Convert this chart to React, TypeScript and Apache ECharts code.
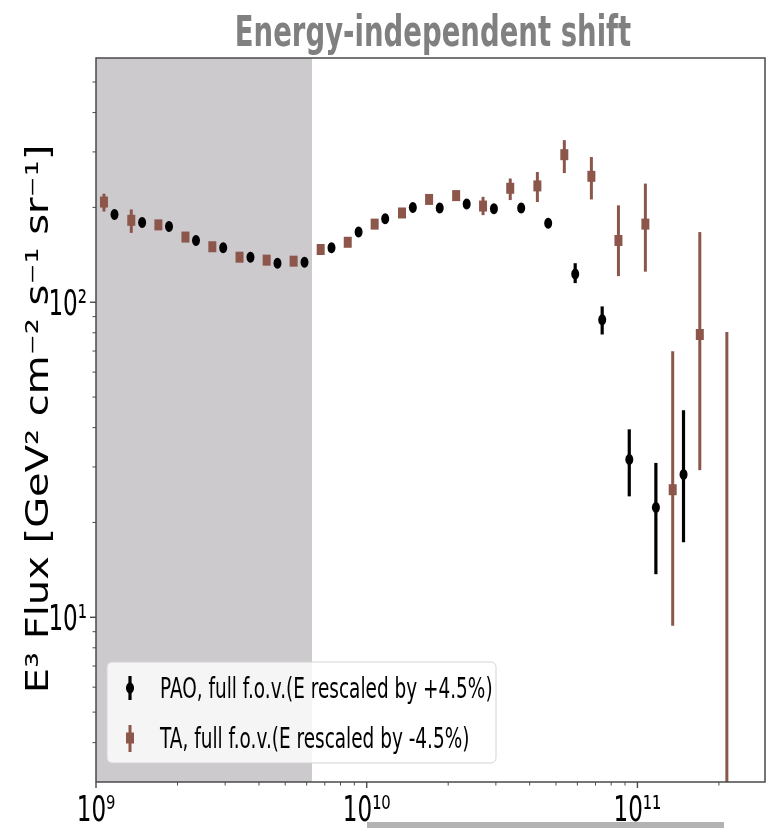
import React, { useEffect, useRef } from "react";
import * as echarts from "echarts";

// ---------- data ----------
const paoEnergy = [1.17e9, 1.48e9, 1.86e9, 2.34e9, 2.95e9, 3.72e9, 4.68e9, 5.89e9, 7.41e9, 9.33e9, 1.17e10, 1.48e10, 1.86e10, 2.34e10, 2.95e10, 3.72e10, 4.68e10, 5.89e10, 7.41e10, 9.33e10, 1.17e11, 1.48e11];
const paoFlux = [190, 179, 174, 157, 149, 139, 133, 134, 149, 167, 184, 200, 199, 205, 198, 199, 178, 123, 88, 31.7, 22.3, 28.4];
const paoLow = [186, 175, 171, 154, 146, 136, 130, 131, 146, 164, 181, 196, 196, 201, 195, 195, 175, 115, 79, 24.2, 13.7, 17.3];
const paoHigh = [194, 183, 178, 160, 152, 142, 136, 137, 152, 170, 187, 204, 203, 209, 202, 203, 181, 133, 97, 39.5, 30.9, 45.4];

const taEnergy = [1.07e9, 1.35e9, 1.7e9, 2.14e9, 2.69e9, 3.39e9, 4.27e9, 5.37e9, 6.76e9, 8.51e9, 1.07e10, 1.35e10, 1.7e10, 2.14e10, 2.69e10, 3.39e10, 4.27e10, 5.37e10, 6.76e10, 8.51e10, 1.07e11, 1.35e11, 1.7e11, 2.14e11];
const taFlux = [208, 182, 176, 161, 150, 139, 136, 135, 147, 155, 177, 192, 212, 218, 202, 230, 234, 294, 251, 157, 177, 25.4, 79, 2.0];
const taLow = [194, 166, 170, 156, 145, 135, 132, 131, 143, 151, 172, 187, 207, 213, 189, 211, 208, 257, 212, 121, 125, 9.4, 29.3, 0.5];
const taHigh = [221, 197, 182, 166, 155, 143, 140, 139, 151, 159, 182, 197, 217, 223, 216, 247, 259, 327, 289, 203, 238, 69.9, 167, 80.5];

const xMin = 1e9;
const xMax = 2.96e11;
const yMin = 3;
const yMax = 596;
const shadeMax = 6.28e9;

const xMajor = [1e9, 1e10, 1e11];
const xTickLabels = ["10⁹", "10¹⁰", "10¹¹"];
const xMinor = [2e9, 3e9, 4e9, 5e9, 6e9, 7e9, 8e9, 9e9, 2e10, 3e10, 4e10, 5e10, 6e10, 7e10, 8e10, 9e10, 2e11];
const yMajor = [10, 100];
const yTickLabels = ["10¹", "10²"];
const yMinor = [4, 5, 6, 7, 8, 9, 20, 30, 40, 50, 60, 70, 80, 90, 200, 300, 400, 500];

const TITLE = "Energy-independent shift";
const Y_NAME = "E³ Flux [GeV² cm⁻² s⁻¹ sr⁻¹]";
const PAO_LABEL = "PAO, full f.o.v.(E rescaled by +4.5%)";
const TA_LABEL = "TA, full f.o.v.(E rescaled by -4.5%)";

const FONT = "DejaVu Sans";
const SQ = 0.64; // horizontal squeeze of the reference's text
const BROWN = "#8c564b";
const AXIS = "#4a4a4a";

export default function App() {
  const ref = useRef<HTMLDivElement>(null);

  useEffect(() => {
    document.body.style.margin = "0";
    const chart = echarts.init(ref.current!, null, { renderer: "svg" });

    const errSeries = (name: string, e: number[], lo: number[], hi: number[], color: string, w: number, z: number) => ({
      type: "custom",
      name,
      data: e.map((v, i) => [v, lo[i], hi[i]]),
      encode: { x: 0, y: [1, 2] },
      clip: true,
      silent: true,
      z,
      renderItem: (_p: any, api: any) => {
        const a = api.coord([api.value(0), api.value(1)]);
        const b = api.coord([api.value(0), api.value(2)]);
        return {
          type: "line",
          shape: { x1: a[0], y1: a[1], x2: b[0], y2: b[1] },
          style: { stroke: color, lineWidth: w },
        };
      },
    });

    const LZ = 100;

    const option: any = {
      animation: false,
      grid: {
        show: true,
        left: 96,
        right: 2,
        top: 58,
        bottom: 46,
        borderColor: AXIS,
        borderWidth: 1.5,
        backgroundColor: "transparent",
        z: 10,
      },
      xAxis: {
        type: "log",
        logBase: 10,
        min: xMin,
        max: xMax,
        axisLine: { show: false },
        axisTick: { show: false },
        axisLabel: { show: false },
        splitLine: { show: false },
      },
      yAxis: {
        type: "log",
        logBase: 10,
        min: yMin,
        max: yMax,
        axisLine: { show: false },
        axisTick: { show: false },
        axisLabel: { show: false },
        splitLine: { show: false },
      },
      series: [
        {
          type: "scatter",
          name: "shade",
          data: [],
          z: 1,
          markArea: {
            silent: true,
            itemStyle: { color: "#cdcacd" },
            data: [[{ xAxis: xMin }, { xAxis: shadeMax }]],
          },
        },
        errSeries("PAO err", paoEnergy, paoLow, paoHigh, "#000000", 3.2, 2),
        {
          type: "scatter",
          name: "PAO",
          data: paoEnergy.map((v, i) => [v, paoFlux[i]]),
          symbol: "circle",
          symbolSize: [8, 11],
          itemStyle: { color: "#000000", opacity: 1 },
          z: 3,
        },
        errSeries("TA err", taEnergy, taLow, taHigh, BROWN, 3, 4),
        {
          type: "scatter",
          name: "TA",
          data: taEnergy.map((v, i) => [v, taFlux[i]]),
          symbol: "rect",
          symbolSize: [8, 11],
          itemStyle: { color: BROWN, opacity: 1 },
          z: 5,
        },
        // x major ticks + labels
        {
          type: "custom",
          name: "xMajor",
          data: xMajor.map((v, i) => [v, yMin, i]),
          silent: true,
          clip: false,
          z: 12,
          renderItem: (_p: any, api: any) => {
            const p = api.coord([api.value(0), api.value(1)]);
            return {
              type: "group",
              children: [
                { type: "line", shape: { x1: p[0], y1: p[1], x2: p[0], y2: p[1] + 6 }, style: { stroke: AXIS, lineWidth: 1.4 } },
                {
                  type: "text",
                  x: p[0],
                  y: p[1] + 8,
                  scaleX: SQ,
                  style: { text: xTickLabels[api.value(2)], fontFamily: FONT, fontSize: 36, fill: "#000", align: "center", verticalAlign: "top" },
                },
              ],
            };
          },
        },
        {
          type: "custom",
          name: "xMinor",
          data: xMinor.map((v) => [v, yMin]),
          silent: true,
          clip: false,
          z: 12,
          renderItem: (_p: any, api: any) => {
            const p = api.coord([api.value(0), api.value(1)]);
            return { type: "line", shape: { x1: p[0], y1: p[1], x2: p[0], y2: p[1] + 3.5 }, style: { stroke: AXIS, lineWidth: 1 } };
          },
        },
        {
          type: "custom",
          name: "yMajor",
          data: yMajor.map((v, i) => [xMin, v, i]),
          silent: true,
          clip: false,
          z: 12,
          renderItem: (_p: any, api: any) => {
            const p = api.coord([api.value(0), api.value(1)]);
            return {
              type: "group",
              children: [
                { type: "line", shape: { x1: p[0] - 6, y1: p[1], x2: p[0], y2: p[1] }, style: { stroke: AXIS, lineWidth: 1.4 } },
                {
                  type: "text",
                  x: p[0] - 9,
                  y: p[1],
                  scaleX: SQ,
                  style: { text: yTickLabels[api.value(2)], fontFamily: FONT, fontSize: 36, fill: "#000", align: "right", verticalAlign: "middle" },
                },
              ],
            };
          },
        },
        {
          type: "custom",
          name: "yMinor",
          data: yMinor.map((v) => [xMin, v]),
          silent: true,
          clip: false,
          z: 12,
          renderItem: (_p: any, api: any) => {
            const p = api.coord([api.value(0), api.value(1)]);
            return { type: "line", shape: { x1: p[0] - 3.5, y1: p[1], x2: p[0], y2: p[1] }, style: { stroke: AXIS, lineWidth: 1 } };
          },
        },
      ],
      graphic: [
        {
          type: "text",
          x: 433,
          y: 31,
          scaleX: 0.656,
          z: 50,
          style: { text: TITLE, fontFamily: FONT, fontWeight: "bold", fontSize: 42, fill: "#808080", align: "center", verticalAlign: "middle" },
        },
        {
          type: "text",
          x: 37,
          y: 419,
          rotation: Math.PI / 2,
          scaleY: 0.78,
          z: 50,
          style: { text: Y_NAME, fontFamily: FONT, fontSize: 40, fill: "#000", align: "center", verticalAlign: "middle" },
        },
        {
          type: "rect",
          z: 50,
          shape: { x: 367, y: 822, width: 357, height: 6 },
          style: { fill: "#b3b3b3" },
        },
        {
          type: "group",
          x: 107,
          y: 662,
          z: LZ,
          children: [
            { type: "rect", z: LZ, shape: { x: 0, y: 0, width: 389, height: 101, r: 5 }, style: { fill: "rgba(255,255,255,0.8)", stroke: "#d4d4d4", lineWidth: 1 } },
            { type: "line", z: LZ + 1, shape: { x1: 23, y1: 14, x2: 23, y2: 38 }, style: { stroke: "#000", lineWidth: 3.2 } },
            { type: "ellipse", z: LZ + 2, shape: { cx: 23, cy: 26, rx: 4, ry: 5.5 }, style: { fill: "#000" } },
            {
              type: "text",
              z: LZ + 2,
              x: 53,
              y: 26,
              scaleX: 0.637,
              style: { text: PAO_LABEL, fontFamily: FONT, fontSize: 29, fill: "#000", align: "left", verticalAlign: "middle" },
            },
            { type: "line", z: LZ + 1, shape: { x1: 23, y1: 63, x2: 23, y2: 90 }, style: { stroke: BROWN, lineWidth: 3 } },
            { type: "rect", z: LZ + 2, shape: { x: 19, y: 70.5, width: 8, height: 11 }, style: { fill: BROWN } },
            {
              type: "text",
              z: LZ + 2,
              x: 53,
              y: 76,
              scaleX: 0.637,
              style: { text: TA_LABEL, fontFamily: FONT, fontSize: 29, fill: "#000", align: "left", verticalAlign: "middle" },
            },
          ],
        },
      ],
    };

    chart.setOption(option);
    return () => chart.dispose();
  }, []);

  return <div ref={ref} style={{ position: "fixed", left: 0, top: 0, width: 767, height: 828 }} />;
}
